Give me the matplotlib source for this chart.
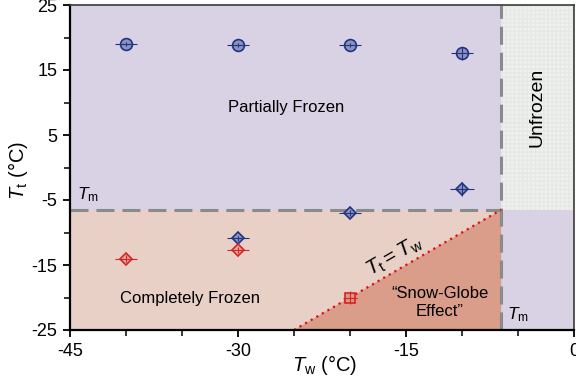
import matplotlib
matplotlib.use("Agg")
import matplotlib.pyplot as plt
from matplotlib.patches import Polygon, Rectangle
from matplotlib.ticker import MultipleLocator, FixedLocator

plt.rcParams['font.family'] = ['Liberation Sans', 'DejaVu Sans']
plt.rcParams['mathtext.fontset'] = 'custom'
plt.rcParams['mathtext.rm'] = 'Liberation Sans'
plt.rcParams['mathtext.it'] = 'Liberation Sans:italic'
plt.rcParams['mathtext.bf'] = 'Liberation Sans:bold'

# Melting temperature of the solution (degC)
T_m = -6.5

# Axis limits
x_min, x_max = -45, 0
y_min, y_max = -25, 25

# Partially frozen (circles)
circ_tw = [-40, -30, -20, -10]
circ_tt = [19.0, 18.9, 18.9, 17.6]
circ_xerr = [1.0, 1.0, 1.0, 1.0]
circ_yerr = [0.3, 0.3, 0.3, 1.0]

# Partially frozen, below T_m (blue diamonds)
bdia_tw = [-30, -20, -10]
bdia_tt = [-10.9, -7.0, -3.3]
bdia_xerr = [1.0, 1.0, 1.1]
bdia_yerr = [0.4, 0.4, 1.1]

# Completely frozen (red diamonds)
rdia_tw = [-40, -30]
rdia_tt = [-14.0, -12.7]
rdia_xerr = [1.0, 1.0]
rdia_yerr = [0.5, 0.5]

# Snow-globe effect (red square)
sq_tw = [-20]
sq_tt = [-20.0]
sq_xerr = [0.6]
sq_yerr = [1.0]

x_major = [-45, -30, -15, 0]
y_major = [25, 15, 5, -5, -15, -25]

c_partial = '#d9d1e4'
c_frozen = '#e9d0c6'
c_globe = '#d99d8a'
c_unfrozen = '#eef1ee'
blue_edge = '#1f3582'
red_edge = '#d42424'

fig = plt.figure(figsize=(5.76, 3.81), dpi=100)
ax = fig.add_axes([70 / 576, 1 - 330 / 381, 504 / 576, 325 / 381])
ax.set_xlim(x_min, x_max)
ax.set_ylim(y_min, y_max)

# Phase regions
ax.add_patch(Rectangle((x_min, y_min), x_max - x_min, y_max - y_min,
                       facecolor=c_partial, edgecolor='none', zorder=0))
ax.add_patch(Rectangle((x_min, y_min), T_m - x_min, T_m - y_min,
                       facecolor=c_frozen, edgecolor='none', zorder=0.5))
ax.add_patch(Polygon([(y_min, y_min), (T_m, T_m), (T_m, y_min)],
                     closed=True, facecolor=c_globe, edgecolor='none', zorder=0.6))
ax.add_patch(Rectangle((T_m, T_m), x_max - T_m, y_max - T_m,
                       facecolor=c_unfrozen, edgecolor='#e5e8e5', hatch='++++',
                       linewidth=0, zorder=0.5))

# Boundaries
ax.plot([T_m, T_m], [y_min, y_max], color='#8a8a8a', lw=2.2,
        dashes=(5.9, 2.6), zorder=1)
ax.plot([x_min, T_m], [T_m, T_m], color='#8a8a8a', lw=2.2,
        dashes=(5.9, 2.6), zorder=1)
ax.plot([y_min, T_m], [y_min, T_m], color='#dd1111', lw=1.6,
        linestyle=(0, (1, 1.9)), zorder=1.2)

# Data
def points(tw, tt, xerr, yerr, marker, ms, face, edge):
    ax.errorbar(tw, tt, xerr=xerr, yerr=yerr, fmt='none', ecolor=edge,
                elinewidth=0.8, capsize=0, zorder=3)
    ax.plot(tw, tt, linestyle='none', marker=marker, markersize=ms,
            markerfacecolor=face, markeredgecolor=edge, markeredgewidth=1.2,
            zorder=2.5)

points(circ_tw, circ_tt, circ_xerr, circ_yerr, 'o', 8.5, '#8e91bf', blue_edge)
points(bdia_tw, bdia_tt, bdia_xerr, bdia_yerr, 'D', 6.2, '#8e91bf', blue_edge)
points(rdia_tw, rdia_tt, rdia_xerr, rdia_yerr, 'D', 6.2, '#e0a99c', red_edge)
points(sq_tw, sq_tt, sq_xerr, sq_yerr, 's', 7.5, '#dc9784', red_edge)

# Region labels
ax.text(-25.7, 9.3, 'Partially Frozen', ha='center', va='center', fontsize=12)
ax.text(-34.3, -20.2, 'Completely Frozen', ha='center', va='center', fontsize=12)
ax.text(-3.3, 9.2, 'Unfrozen', ha='center', va='center', fontsize=14,
        rotation=90)
ax.text(-12.0, -20.8, '\u201cSnow-Globe\nEffect\u201d', ha='center',
        va='center', fontsize=12, linespacing=1.25)
ax.text(-16.0, -13.6, r'$T_\mathrm{t} = T_\mathrm{w}$', ha='center',
        va='center', fontsize=15, rotation=30, rotation_mode='anchor')
ax.text(-44.4, -4.2, r'$T_\mathrm{m}$', ha='left', va='center', fontsize=12.5)
ax.text(-6.0, -22.7, r'$T_\mathrm{m}$', ha='left', va='center', fontsize=12.5)

# Axes styling
ax.xaxis.set_major_locator(FixedLocator(x_major))
ax.xaxis.set_minor_locator(MultipleLocator(5))
ax.yaxis.set_major_locator(FixedLocator(y_major))
ax.yaxis.set_minor_locator(MultipleLocator(5))
ax.set_xticklabels([str(v) for v in x_major])
ax.set_yticklabels([str(v) for v in y_major])
ax.tick_params(which='major', direction='out', length=5, width=1.3,
               labelsize=13, pad=4)
ax.tick_params(which='minor', direction='out', length=4, width=1.1)
ax.tick_params(top=False, right=False, which='both')

for side in ('left', 'bottom'):
    ax.spines[side].set_linewidth(1.6)
    ax.spines[side].set_color('black')
for side in ('top', 'right'):
    ax.spines[side].set_linewidth(1.2)
    ax.spines[side].set_color('#3a3a3a')
for s in ax.spines.values():
    s.set_zorder(5)

ax.set_xlabel(r'$T_\mathrm{w}$' + ' (\u00b0C)', fontsize=14.5)
ax.set_ylabel(r'$T_\mathrm{t}$' + ' (\u00b0C)', fontsize=14.5)
ax.xaxis.set_label_coords(0.505, -0.07)
ax.yaxis.set_label_coords(-0.08, 0.49)

fig.savefig('out.png', dpi=100)
